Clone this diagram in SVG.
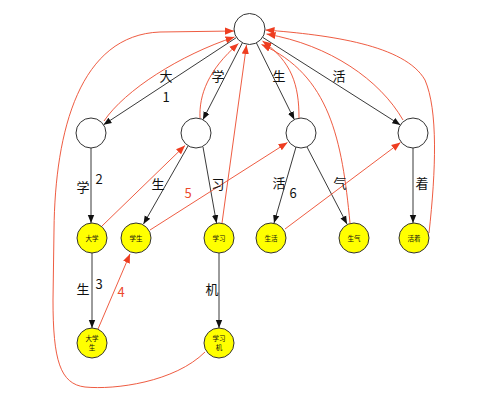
<svg xmlns="http://www.w3.org/2000/svg" width="482" height="402" viewBox="0 0 482 402">
<style>
.n{fill:#fff;stroke:#333;stroke-width:1}
.y{fill:#ffff00;stroke:#333;stroke-width:1}
.e{fill:none;stroke:#222;stroke-width:0.9}
.f{fill:none;stroke:#ec4a2c;stroke-width:0.9}
.l{font-family:"Noto Sans CJK SC","Liberation Sans",sans-serif;font-size:13px;fill:#111;text-anchor:middle}
.r{fill:#ec4a2c}
.t{font-family:"Noto Sans CJK SC",sans-serif;font-size:6.5px;fill:#111;text-anchor:middle}
</style>
<defs>
<marker id="ab" viewBox="0 0 10 10" refX="10" refY="5" markerWidth="8" markerHeight="8" markerUnits="userSpaceOnUse" orient="auto"><path d="M0,1 L10,5 L0,9 z" fill="#111"/></marker>
<marker id="ar" viewBox="0 0 10 10" refX="10" refY="5" markerWidth="9" markerHeight="9" markerUnits="userSpaceOnUse" orient="auto"><path d="M0,1 L10,5 L0,9 z" fill="#ee3d20"/></marker>
</defs>
<g id="connectors">
<path class="e" d="M236.5,37.5 L103.5,124.8" marker-end="url(#ab)"/>
<path class="e" d="M242.4,42.8 L202.9,119.7" marker-end="url(#ab)"/>
<path class="e" d="M256.4,42.9 L294.3,119.6" marker-end="url(#ab)"/>
<path class="e" d="M262.6,37.3 L400.3,124.9" marker-end="url(#ab)"/>
<path class="e" d="M91,148 L91,223" marker-end="url(#ab)"/>
<path class="e" d="M188,146 L143.5,224" marker-end="url(#ab)"/>
<path class="e" d="M203,147 L216.5,223" marker-end="url(#ab)"/>
<path class="e" d="M92,253 L92,328" marker-end="url(#ab)"/>
<path class="e" d="M219,253 L219,328" marker-end="url(#ab)"/>
<path class="e" d="M296,147 L274,223" marker-end="url(#ab)"/>
<path class="e" d="M307,147 L347,224" marker-end="url(#ab)"/>
<path class="e" d="M413,148 L413,223" marker-end="url(#ab)"/>
<path class="f" d="M104,121 C125,90 180,55 234.5,37" marker-end="url(#ar)"/>
<path class="f" d="M200,118 C199,95 208,70 238.5,43.5" marker-end="url(#ar)"/>
<path class="f" d="M222,223 L246.5,45" marker-end="url(#ar)"/>
<path class="f" d="M205,352 C175,382 115,390 85,387 C60,384 53,360 53,300 L54,230 C55,130 80,35 160,32 L234,31" marker-end="url(#ar)"/>
<path class="f" d="M102,226 L185,145.5" marker-end="url(#ar)"/>
<path class="f" d="M150,230 L287.5,142.5" marker-end="url(#ar)"/>
<path class="f" d="M98,329 L130,254" marker-end="url(#ar)"/>
<path class="f" d="M285,229 L400.5,142.5" marker-end="url(#ar)"/>
<path class="f" d="M299,118 C299,85 292,62 262.5,41" marker-end="url(#ar)"/>
<path class="f" d="M350,223 C342,140 330,75 261.5,44.5" marker-end="url(#ar)"/>
<path class="f" d="M403,120 C380,80 330,45 266.5,34" marker-end="url(#ar)"/>
<path class="f" d="M429,233 C436,170 438,110 425,80 C405,45 330,35 265.5,30" marker-end="url(#ar)"/>
</g>
<g id="labels">
<text class="l" x="166" y="81">大</text>
<text class="l" x="166" y="102">1</text>
<text class="l" x="218" y="81">学</text>
<text class="l" x="279" y="81">生</text>
<text class="l" x="339" y="81">活</text>
<text class="l" x="83" y="192">学</text>
<text class="l" x="99" y="184">2</text>
<text class="l" x="158" y="189">生</text>
<text class="l r" x="188" y="198">5</text>
<text class="l" x="218" y="189">习</text>
<text class="l" x="279" y="188">活</text>
<text class="l" x="293" y="198">6</text>
<text class="l" x="340" y="188">气</text>
<text class="l" x="422" y="188">着</text>
<text class="l" x="83" y="294">生</text>
<text class="l" x="99" y="289">3</text>
<text class="l r" x="121" y="297">4</text>
<text class="l" x="212" y="294">机</text>
</g>
<g id="root"><circle class="n" cx="249.5" cy="29" r="15.5"/></g>
<g id="n-da"><circle class="n" cx="91" cy="133" r="15"/></g>
<g id="n-xue"><circle class="n" cx="196" cy="133" r="15"/></g>
<g id="n-sheng"><circle class="n" cx="301" cy="133" r="15"/></g>
<g id="n-huo"><circle class="n" cx="413" cy="133" r="15"/></g>
<g id="n-daxue"><circle class="y" cx="92" cy="238" r="15"/><text class="t" x="92" y="240.5">大学</text></g>
<g id="n-xuesheng"><circle class="y" cx="136" cy="238" r="15"/><text class="t" x="136" y="240.5">学生</text></g>
<g id="n-xuexi"><circle class="y" cx="219" cy="238" r="15"/><text class="t" x="219" y="240.5">学习</text></g>
<g id="n-shenghuo"><circle class="y" cx="271" cy="238" r="15"/><text class="t" x="271" y="240.5">生活</text></g>
<g id="n-shengqi"><circle class="y" cx="354" cy="238" r="15"/><text class="t" x="354" y="240.5">生气</text></g>
<g id="n-huozhe"><circle class="y" cx="414" cy="238" r="15"/><text class="t" x="414" y="240.5">活着</text></g>
<g id="n-daxuesheng"><circle class="y" cx="92" cy="343" r="15"/><text class="t" x="92" y="341">大学</text><text class="t" x="92" y="350">生</text></g>
<g id="n-xuexiji"><circle class="y" cx="219" cy="343" r="15"/><text class="t" x="219" y="341">学习</text><text class="t" x="219" y="350">机</text></g>
</svg>
